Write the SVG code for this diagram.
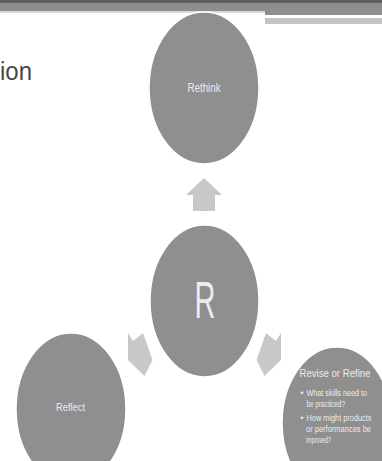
<svg xmlns="http://www.w3.org/2000/svg" width="382" height="461" viewBox="0 0 382 461">
<style>
.node{fill:#8f8f8f;stroke:#ffffff;stroke-width:1.5}
.arrow{fill:#c8c8c8}
.lbl{font-family:"Liberation Sans",Arial,sans-serif;fill:#ececec}
</style>
<rect width="382" height="461" fill="#ffffff"/>
<g id="header">
<rect x="0" y="0" width="382" height="3" fill="#5e5e5e"/>
<rect x="0" y="3" width="382" height="8" fill="#8e8e8e"/>
<rect x="0" y="11" width="265" height="2" fill="#d8d8d8"/>
<rect x="265" y="11" width="117" height="4" fill="#8e8e8e"/>
<rect x="265" y="18" width="117" height="6" fill="#c4c4c4"/>
<text x="0" y="80" font-family="'Liberation Sans',Arial,sans-serif" font-size="25.5" fill="#484848" textLength="32" lengthAdjust="spacingAndGlyphs">ion</text>
</g>
<g id="connectors">
<polygon class="arrow" points="204,178 222,195 215,195 215,211 193,211 193,195 186,195"/>
<polygon class="arrow" points="128,333 133,341 143,333 152.5,360 144.5,376 128,360"/>
<polygon class="arrow" points="281,333 276,341 266,333 256.5,360 264.5,376 281,360"/>
</g>
<g id="rethink">
<ellipse class="node" cx="204" cy="88" rx="55" ry="76"/>
<text class="lbl" x="204" y="91.5" font-size="12" text-anchor="middle" textLength="33" lengthAdjust="spacingAndGlyphs">Rethink</text>
</g>
<g id="center">
<ellipse class="node" cx="204.5" cy="301" rx="54.5" ry="76"/>
<text class="lbl" x="205" y="318" font-size="52" text-anchor="middle" textLength="21" lengthAdjust="spacingAndGlyphs" fill="#f2f2f2">R</text>
</g>
<g id="reflect">
<ellipse class="node" cx="71" cy="409" rx="55" ry="76"/>
<text class="lbl" x="70.5" y="410.5" font-size="11.5" text-anchor="middle" textLength="29" lengthAdjust="spacingAndGlyphs">Reflect</text>
</g>
<g id="revise">
<ellipse class="node" cx="337" cy="423" rx="55" ry="76"/>
<text class="lbl" x="299.5" y="377.3" font-size="11.5" textLength="71" lengthAdjust="spacingAndGlyphs">Revise or Refine</text>
<g font-size="8.5" class="lbl">
<text x="300.5" y="396">•</text>
<text x="306.5" y="396" textLength="60.5" lengthAdjust="spacingAndGlyphs">What skills need to</text>
<text x="306.5" y="407" textLength="38.5" lengthAdjust="spacingAndGlyphs">be practiced?</text>
<text x="300.5" y="420.5">•</text>
<text x="306.5" y="420.5" textLength="65" lengthAdjust="spacingAndGlyphs">How might products</text>
<text x="306" y="431.5" textLength="65" lengthAdjust="spacingAndGlyphs">or performances be</text>
<text x="306" y="442.5" textLength="25" lengthAdjust="spacingAndGlyphs">improved?</text>
</g>
</g>
</svg>
